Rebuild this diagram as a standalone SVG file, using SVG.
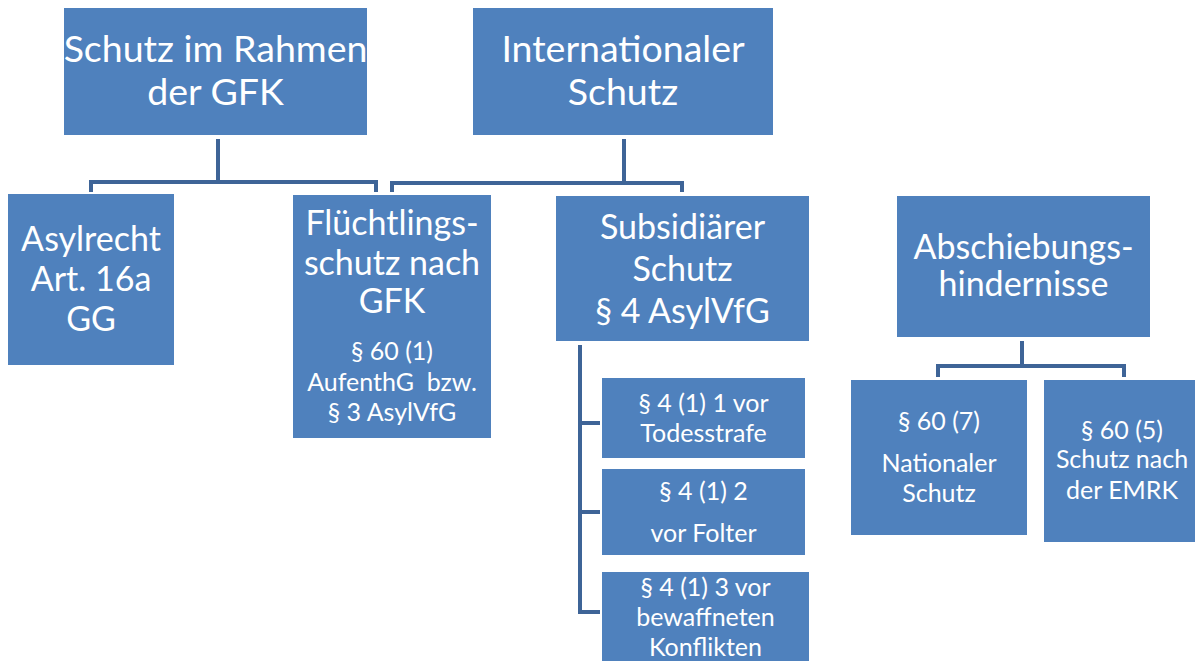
<svg xmlns="http://www.w3.org/2000/svg" width="1195" height="661" viewBox="0 0 1195 661">
<style>
.box{fill:#4F81BD;}
.t{fill:#fff;font-family:Lato,"Liberation Sans",sans-serif;text-anchor:middle;}
.l{font-size:37.5px;}
.m{font-size:34px;}
.s{font-size:25px;}
.c{fill:none;stroke:#3E6497;stroke-width:4;}
</style>
<rect width="1195" height="661" fill="#fff"/>
<g id="connectors">
<path class="c" d="M218,139 V182 M91,192 V182 H376 V192"/>
<path class="c" d="M624,139 V183 M392,192 V183 H682 V192"/>
<path class="c" d="M580,345 V614 M580,423 H600 M580,512 H600 M580,612 H600"/>
<path class="c" d="M1022,341 V366 M938,377 V366 H1124 V377"/>
</g>
<g id="n1"><rect class="box" x="64" y="8" width="303" height="127"/>
<text class="t l" x="215.5" y="62">Schutz im Rahmen</text><text class="t l" x="215.5" y="105">der GFK</text></g>
<g id="n2"><rect class="box" x="473" y="8" width="300" height="127"/>
<text class="t l" x="623" y="62">Internationaler</text><text class="t l" x="623" y="105">Schutz</text></g>
<g id="n3"><rect class="box" x="8" y="194" width="166" height="171"/>
<text class="t m" x="91" y="251">Asylrecht</text><text class="t m" x="91" y="291">Art. 16a</text><text class="t m" x="91" y="331">GG</text></g>
<g id="n4"><rect class="box" x="293" y="195" width="198" height="243"/>
<text class="t m" x="392" y="235">Flüchtlings-</text><text class="t m" x="392" y="275">schutz nach</text><text class="t m" x="392" y="313">GFK</text>
<text class="t s" x="392" y="360">§ 60 (1)</text><text class="t s" x="392" y="391" xml:space="preserve">AufenthG  bzw.</text><text class="t s" x="392" y="421">§ 3 AsylVfG</text></g>
<g id="n5"><rect class="box" x="556" y="196" width="253" height="145"/>
<text class="t m" x="682.5" y="239">Subsidiärer</text><text class="t m" x="682.5" y="281">Schutz</text><text class="t m" x="682.5" y="323">§ 4 AsylVfG</text></g>
<g id="n6"><rect class="box" x="602" y="378" width="203" height="80"/>
<text class="t s" x="703.5" y="412">§ 4 (1) 1 vor</text><text class="t s" x="703.5" y="442">Todesstrafe</text></g>
<g id="n7"><rect class="box" x="602" y="469" width="203" height="86"/>
<text class="t s" x="703.5" y="500">§ 4 (1) 2</text><text class="t s" x="703.5" y="542">vor Folter</text></g>
<g id="n8"><rect class="box" x="602" y="572" width="207" height="89"/>
<text class="t s" x="705.5" y="596">§ 4 (1) 3 vor</text><text class="t s" x="705.5" y="626">bewaffneten</text><text class="t s" x="705.5" y="656">Konflikten</text></g>
<g id="n9"><rect class="box" x="897" y="196" width="253" height="141"/>
<text class="t m" x="1023.5" y="259">Abschiebungs-</text><text class="t m" x="1023.5" y="296">hindernisse</text></g>
<g id="n10"><rect class="box" x="851" y="380" width="176" height="155"/>
<text class="t s" x="939" y="430">§ 60 (7)</text><text class="t s" x="939" y="472">Nationaler</text><text class="t s" x="939" y="502">Schutz</text></g>
<g id="n11"><rect class="box" x="1044" y="380" width="151" height="162"/>
<text class="t s" x="1122" y="439">§ 60 (5)</text><text class="t s" x="1122" y="468">Schutz nach</text><text class="t s" x="1122" y="499">der EMRK</text></g>
</svg>
